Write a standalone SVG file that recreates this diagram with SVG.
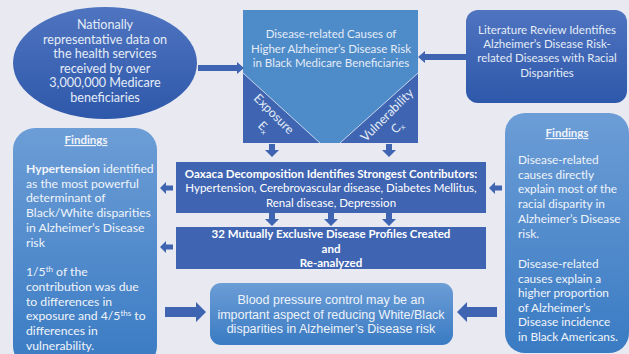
<svg xmlns="http://www.w3.org/2000/svg" width="629" height="354" viewBox="0 0 629 354">
<defs>
<linearGradient id="gDark" x1="0" y1="0" x2="0" y2="1"><stop offset="0" stop-color="#4F74C0"/><stop offset="1" stop-color="#2E58AA"/></linearGradient>
<linearGradient id="gLight" x1="0" y1="0" x2="0" y2="1"><stop offset="0" stop-color="#6C9DD6"/><stop offset="1" stop-color="#3A7BC3"/></linearGradient>
<path id="downArrow" d="M-3,0 h6 v6 h4 l-7,7 l-7,-7 h4 z"/>
<path id="smallLeft" d="M0,0 l6,-6 v3.5 h7 v5 h-7 v3.5 z"/>
</defs>
<style>
text{font-family:Lato,"Liberation Sans",sans-serif;fill:#FFFFFF;}
.t{font-size:11.5px;text-anchor:middle;fill:#E4ECF7;}
.f{font-size:11.5px;fill:#F0F4FA;}
.b{font-weight:bold;}
.arrow{fill:#3F65B2;}
.dark{fill:#3F65B2;}
.ar{font-family:"Liberation Sans",Arial,sans-serif;font-size:12.5px;text-anchor:middle;fill:#EEF3FA;}
</style>
<rect width="629" height="354" fill="#E9E9F2"/>

<g id="data-source">
<ellipse cx="105" cy="63" rx="92" ry="56" fill="url(#gDark)"/>
<text class="t" style="font-size:12.6px"><tspan x="105" y="29">Nationally</tspan><tspan x="105" y="43.5">representative data on</tspan><tspan x="105" y="58">the health services</tspan><tspan x="105" y="72.5">received by over</tspan><tspan x="105" y="87">3,000,000 Medicare</tspan><tspan x="105" y="101.5">beneficiaries</tspan></text>
</g>

<g id="causes">
<rect x="243" y="10" width="175" height="133" fill="#4E8BC9"/>
<path d="M243,73 L320,143 L243,143 Z" class="dark"/>
<path d="M418,73 L340,143 L418,143 Z" class="dark"/>
<path d="M243,73 L320,143 M418,73 L340,143" stroke="#E9EEF7" stroke-width="0.8" fill="none"/>
<text class="t"><tspan x="331" y="38">Disease-related Causes of</tspan><tspan x="331" y="53">Higher Alzheimer’s Disease Risk</tspan><tspan x="331" y="67">in Black Medicare Beneficiaries</tspan></text>
<text class="t" transform="translate(271,117) rotate(45)" style="font-size:12.5px">Exposure</text>
<text class="t" transform="translate(261,130) rotate(45)" style="font-size:12px">E<tspan font-size="7.5" dy="2">x</tspan></text>
<text class="t" transform="translate(390,118) rotate(-45)" style="font-size:12.5px">Vulnerability</text>
<text class="t" transform="translate(400,130) rotate(-45)" style="font-size:12px">C<tspan font-size="7.5" dy="2">x</tspan></text>
</g>

<g id="literature">
<rect x="466" y="10" width="161" height="93" rx="12" fill="url(#gDark)"/>
<text class="t"><tspan x="547" y="34">Literature Review Identifies</tspan><tspan x="547" y="48">Alzheimer’s Disease Risk-</tspan><tspan x="547" y="62">related Diseases with Racial</tspan><tspan x="547" y="77">Disparities</tspan></text>
</g>

<g id="findings-left">
<rect x="13" y="128" width="144" height="240" rx="22" fill="url(#gLight)"/>
<text class="f b" x="86" y="144" text-anchor="middle" text-decoration="underline">Findings</text>
<text class="f" style="font-size:12.2px"><tspan x="26" y="173"><tspan class="b">Hypertension</tspan> identified</tspan><tspan x="26" y="188">as the most powerful</tspan><tspan x="26" y="202">determinant of</tspan><tspan x="26" y="217">Black/White disparities</tspan><tspan x="26" y="232">in Alzheimer’s Disease</tspan><tspan x="26" y="247">risk</tspan><tspan x="26" y="276">1/5<tspan font-size="8" dy="-4">th</tspan><tspan dy="4"> of the</tspan></tspan><tspan x="26" y="291">contribution  was due</tspan><tspan x="26" y="306">to differences in</tspan><tspan x="26" y="320">exposure and 4/5<tspan font-size="8" dy="-4">ths</tspan><tspan dy="4"> to</tspan></tspan><tspan x="26" y="335">differences in</tspan><tspan x="26" y="350">vulnerability.</tspan></text>
</g>

<g id="findings-right">
<rect x="505" y="113" width="124" height="240" rx="20" fill="url(#gLight)"/>
<text class="f b" x="567" y="137" text-anchor="middle" text-decoration="underline">Findings</text>
<text class="f" style="font-size:11.8px"><tspan x="518" y="164">Disease-related</tspan><tspan x="518" y="179">causes directly</tspan><tspan x="518" y="193">explain most of the</tspan><tspan x="518" y="208">racial disparity in</tspan><tspan x="518" y="223">Alzheimer’s Disease</tspan><tspan x="518" y="238">risk.</tspan><tspan x="518" y="268">Disease-related</tspan><tspan x="518" y="283">causes explain a</tspan><tspan x="518" y="297">higher proportion</tspan><tspan x="518" y="312">of Alzheimer’s</tspan><tspan x="518" y="326">Disease  incidence</tspan><tspan x="518" y="341">in Black Americans.</tspan></text>
</g>

<g id="oaxaca">
<rect x="176" y="162" width="310" height="51" class="dark"/>
<text class="t" style="fill:#FFFFFF"><tspan x="331" y="178" class="b">Oaxaca Decomposition Identifies Strongest Contributors:</tspan><tspan x="331" y="192">Hypertension, Cerebrovascular disease, Diabetes Mellitus,</tspan><tspan x="331" y="207">Renal disease, Depression</tspan></text>
</g>

<g id="profiles">
<rect x="176" y="227" width="310" height="42" class="dark"/>
<text class="t b" style="fill:#FFFFFF"><tspan x="331" y="238">32 Mutually Exclusive Disease Profiles Created</tspan><tspan x="331" y="253">and</tspan><tspan x="331" y="267">Re-analyzed</tspan></text>
</g>

<g id="conclusion">
<rect x="210" y="283" width="243" height="62" rx="11" fill="url(#gLight)"/>
<text class="ar"><tspan x="331" y="304">Blood pressure control may be an</tspan><tspan x="331" y="319">important aspect of reducing White/Black</tspan><tspan x="331" y="333">disparities in Alzheimer’s Disease risk</tspan></text>
</g>

<g id="connectors" class="arrow">
<path d="M198,65 H237 V62 L244,68 L237,74 V71 H198 Z"/>
<path d="M466,54 H425 V51 L418,57 L425,63 V60 H466 Z"/>
<use href="#downArrow" x="272" y="144"/>
<use href="#downArrow" x="389" y="144"/>
<use href="#downArrow" x="272" y="213"/>
<use href="#downArrow" x="331" y="213"/>
<use href="#downArrow" x="389" y="213"/>
<use href="#smallLeft" x="160" y="188"/>
<use href="#smallLeft" x="160" y="247"/>
<path d="M502,185.5 H495 V182 L489,188 L495,194 V190.5 H502 Z"/>
<path d="M165,307 H196 V302 L206,312 L196,322 V317 H165 Z"/>
<path d="M497,307 H467 V302 L457,312 L467,322 V317 H497 Z"/>
</g>
</svg>
